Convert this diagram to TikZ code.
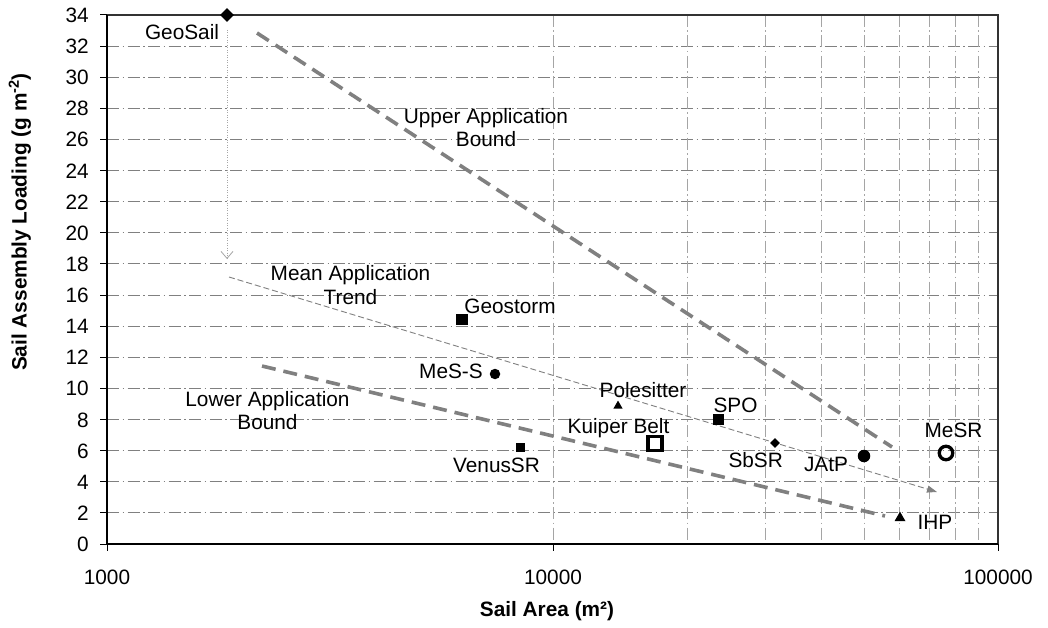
\documentclass[tikz,border=0pt]{standalone}
\usepackage{fontspec}
\setmainfont{Liberation Sans}
\usetikzlibrary{shapes.geometric,arrows.meta}
\definecolor{gridh}{RGB}{128,128,128}
\definecolor{gridv}{RGB}{165,165,165}
\definecolor{boundc}{RGB}{128,128,128}
\definecolor{framec}{RGB}{50,50,50}
\tikzset{
  txt/.style={font=\fontsize{20.8}{23.4}\selectfont, inner sep=0pt},
  lbl/.style={txt, text height=15pt, text depth=0pt},
  lbltwo/.style={txt, align=center},
  hgrid/.style={gridh, line width=0.9pt, dash pattern=on 12pt off 3.5pt on 1.5pt off 3.5pt},
  vgrid/.style={gridv, line width=0.9pt, dash pattern=on 12pt off 3.5pt on 1.5pt off 3.5pt},
  boundline/.style={boundc, line width=3.6pt, dash pattern=on 14pt off 8pt},
  trendline/.style={boundc, line width=0.9pt, dash pattern=on 6pt off 3pt, -{Triangle[length=10pt,width=7pt]}},
  geoarrow/.style={gray!70, line width=0.8pt, dash pattern=on 1pt off 1.5pt, -{Straight Barb[length=7pt,width=12pt,line width=0.8pt]}},
  sqmark/.style={rectangle, fill=black, inner sep=0pt},
  dimark/.style={diamond, fill=black, inner sep=0pt},
  cimark/.style={circle, fill=black, inner sep=0pt},
  trimark/.style={regular polygon, regular polygon sides=3, fill=black, inner sep=0pt},
}
\begin{document}
\begin{tikzpicture}[x=1pt,y=-1pt]
\useasboundingbox (0,0) rectangle (1048,628);
\fill[white] (0,0) rectangle (1048,628);
% grid
\foreach \k in {1,...,16}
  \draw[hgrid] (107,{544-31.118*\k}) -- (998,{544-31.118*\k});
\foreach \k in {1,...,9}
  \draw[vgrid] ({553+445.5*log10(\k)},15) -- ({553+445.5*log10(\k)},544);
% frame and axes
\draw[framec, line width=1.5pt] (107,15) -- (998,15) -- (998,544);
\draw[black, line width=1.5pt] (107,15) -- (107,544) -- (998,544);
\foreach \v in {0,2,...,34} {
  \draw[black, line width=1pt] (100,{544-15.559*\v}) -- (107,{544-15.559*\v});
  \node[lbl, anchor=east] (yt\v) at (89,{544-15.559*\v}) {\v};
}
\foreach \xx/\t in {107/1000,553/10000,998/100000} {
  \draw[black, line width=1pt] (\xx,544) -- (\xx,551);
  \node[lbl] (xt\t) at (\xx,577) {\t};
}
\node[lbl, font=\fontsize{20.8}{23.4}\selectfont\bfseries] (xtitle) at (547,609) {Sail Area (m²)};
\node[lbl, rotate=90, font=\fontsize{20.8}{23.4}\selectfont\bfseries] (ytitle) at (19,222) {Sail Assembly Loading (g m\textsuperscript{-2})};
% trend lines
\coordinate (ub1) at (257,33);
\coordinate (ub2) at (892,447);
\coordinate (lb1) at (262,366);
\coordinate (lb2) at (885,516);
\coordinate (mt1) at (229,277);
\coordinate (mt2) at (937,492);
\coordinate (ga1) at (227,30);
\coordinate (ga2) at (227,259);
\draw[boundline] (ub1) -- (ub2);
\draw[boundline] (lb1) -- (lb2);
\draw[trendline] (mt1) -- (mt2);
\draw[geoarrow] (ga1) -- (ga2);
% markers
\node[dimark, minimum size=14pt] (geosail) at (227,15) {};
\node[sqmark, minimum width=12pt, minimum height=11pt] (geostorm) at (462,319) {};
\node[cimark, minimum size=10.5pt] (mess) at (495,374) {};
\node[trimark, minimum size=10.8pt] (pole) at (618,406) {};
\node[rectangle, draw=black, line width=3.5pt, inner sep=0pt, minimum size=14pt] (kuiper) at (655,443.5) {};
\node[sqmark, minimum size=9pt] (venus) at (520.5,447.5) {};
\node[sqmark, minimum size=11pt] (spo) at (718,419.5) {};
\node[dimark, minimum size=10pt] (sbsr) at (775,443) {};
\node[cimark, minimum size=12.5pt] (jatp) at (864,456) {};
\node[circle, draw=black, line width=3.3pt, inner sep=0pt, minimum size=13.5pt] (mesr) at (946,453) {};
\node[trimark, minimum size=12.7pt] (ihp) at (900,518) {};
% labels
\node[lbl] (lgeosail) at (182,32) {GeoSail};
\node[lbltwo] (lupper) at (486,127.5) {Upper Application\\Bound};
\node[lbltwo] (lmean) at (350.5,285) {Mean Application\\Trend};
\node[lbltwo] (llower) at (267.5,410.6) {Lower Application\\Bound};
\node[lbl] (lgeostorm) at (510,306) {Geostorm};
\node[lbl] (lmess) at (451,370.5) {MeS-S};
\node[lbl] (lpole) at (643,390) {Polesitter};
\node[lbl] (lkuiper) at (618.5,426) {Kuiper Belt};
\node[lbl] (lvenus) at (496.5,464.5) {VenusSR};
\node[lbl] (lspo) at (735.5,404.7) {SPO};
\node[lbl] (lsbsr) at (755.7,459.8) {SbSR};
\node[lbl] (ljatp) at (826,463.5) {JAtP};
\node[lbl] (lmesr) at (953.5,429.8) {MeSR};
\node[lbl] (lihp) at (935,521.5) {IHP};
\end{tikzpicture}
\end{document}
